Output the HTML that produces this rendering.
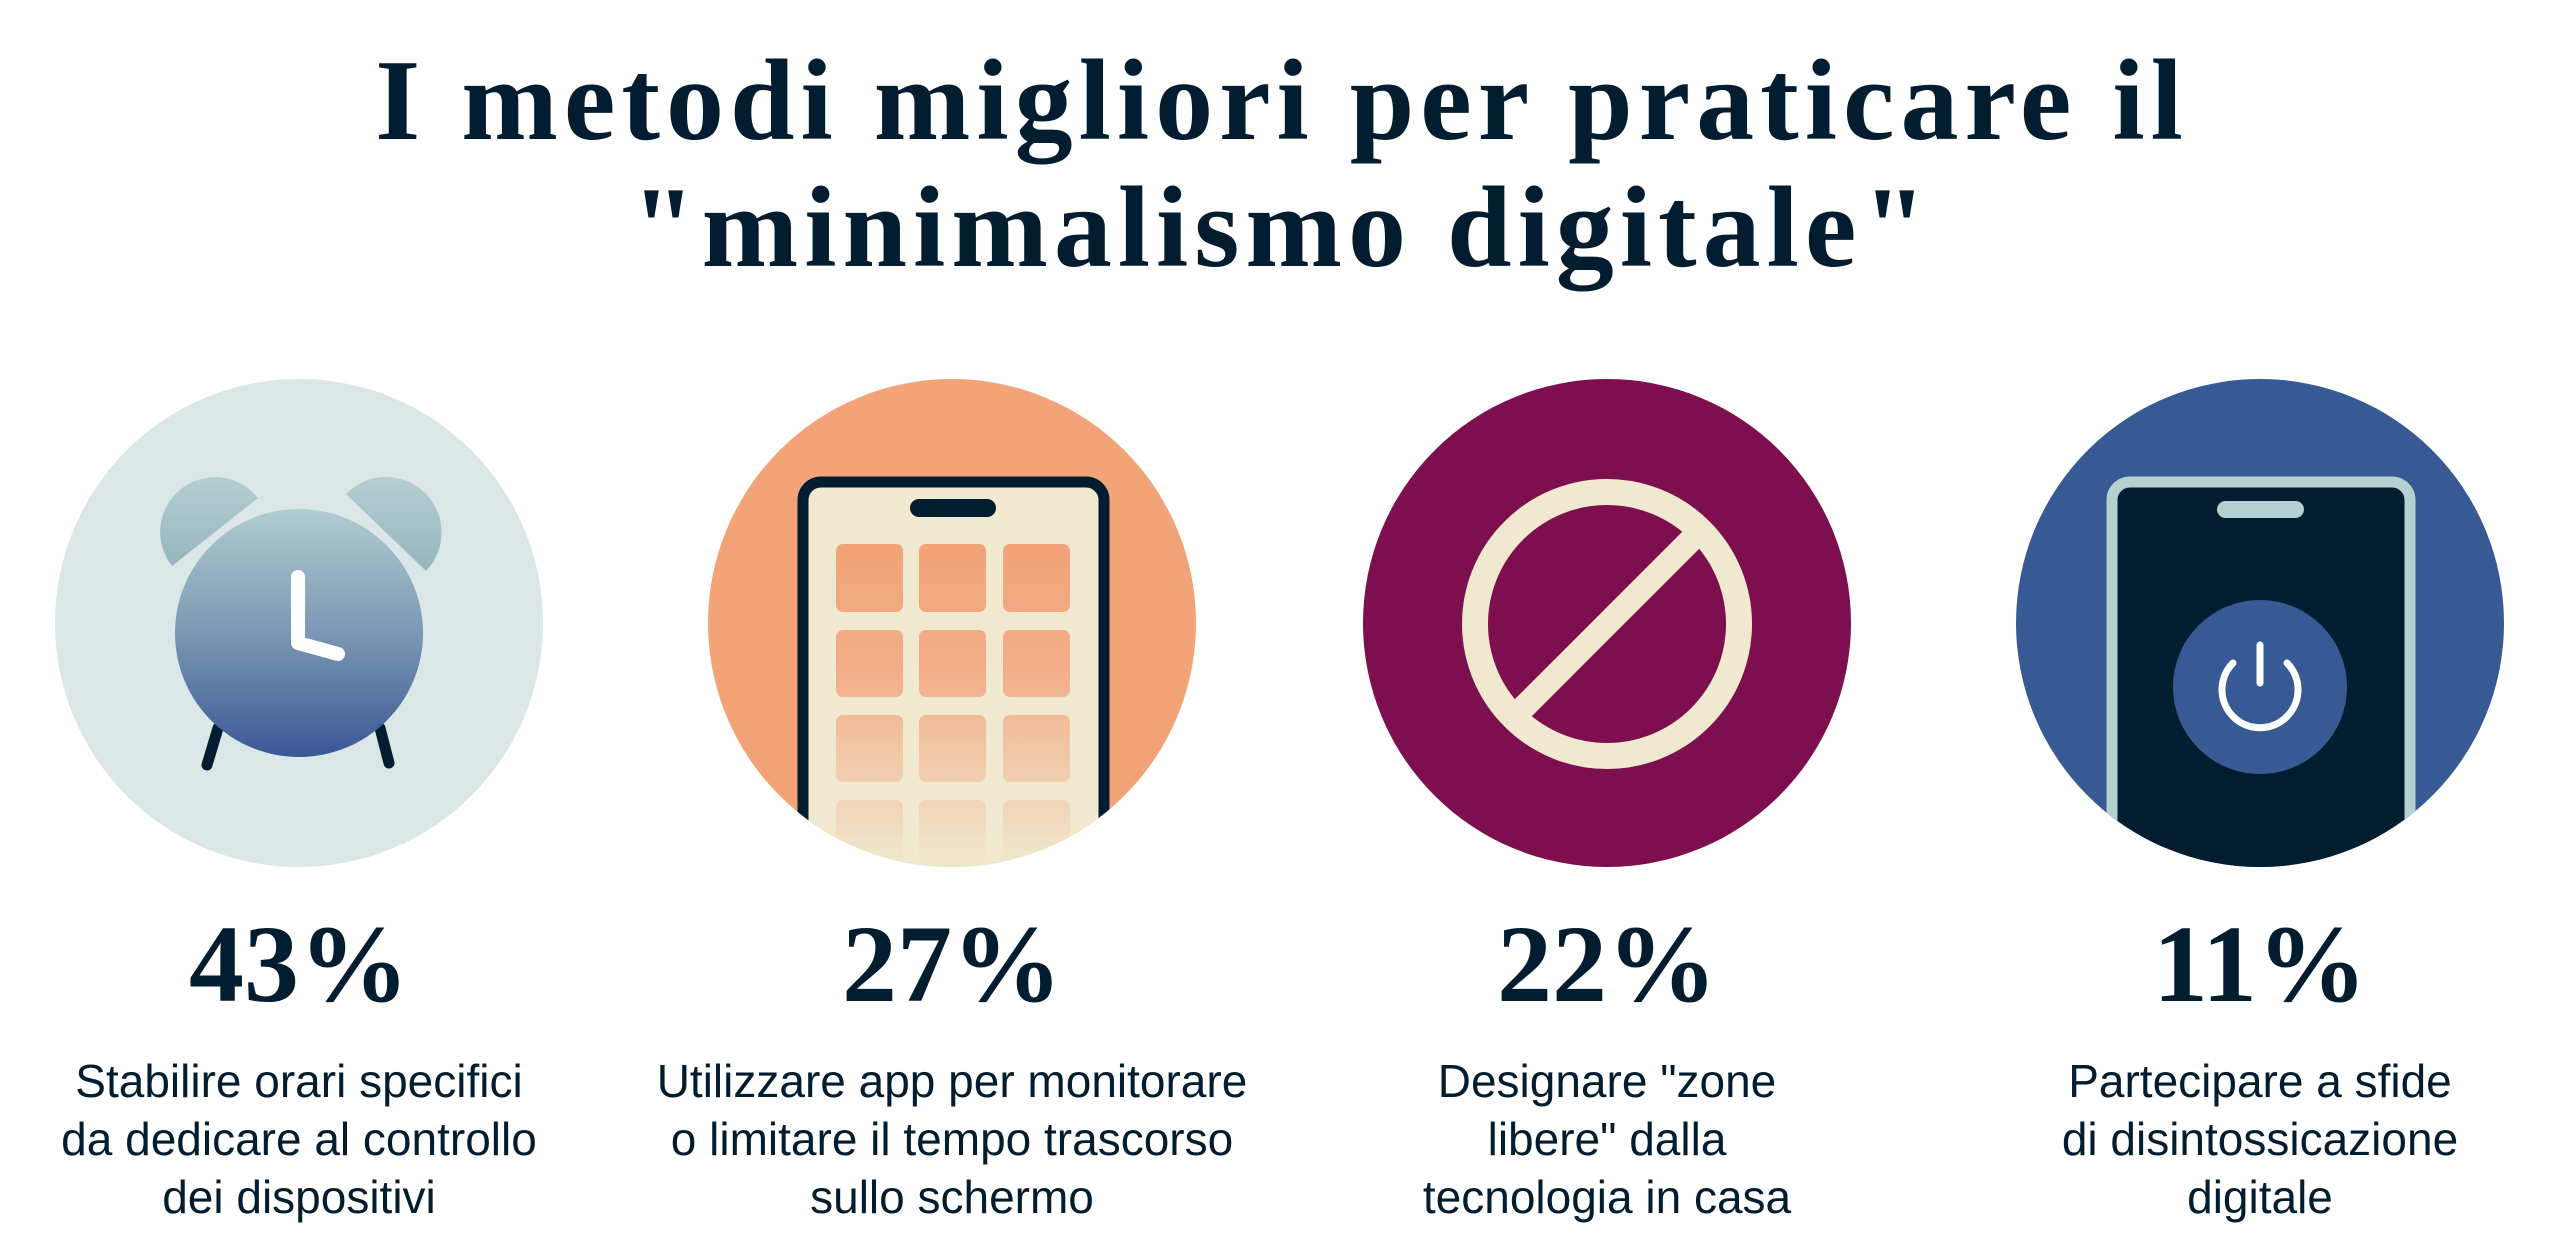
<!DOCTYPE html>
<html><head><meta charset="utf-8"><style>
html,body{margin:0;padding:0;background:#fff;}
body{width:2560px;height:1255px;position:relative;overflow:hidden;}
svg{position:absolute;left:0;top:0;}
</style></head><body>
<svg width="2560" height="1255" viewBox="0 0 2560 1255" xmlns="http://www.w3.org/2000/svg">
<defs>
<linearGradient id="cg" x1="0" y1="0" x2="0" y2="1">
<stop offset="0" stop-color="#b0cdd0"/><stop offset="0.5" stop-color="#7b98b4"/><stop offset="1" stop-color="#3a5795"/></linearGradient>
<linearGradient id="bg" x1="0" y1="0" x2="0" y2="1">
<stop offset="0" stop-color="#b4cfd1"/><stop offset="1" stop-color="#97b5c0"/></linearGradient>
<linearGradient id="tg" gradientUnits="userSpaceOnUse" x1="0" y1="544" x2="0" y2="860">
<stop offset="0" stop-color="#f2a377"/><stop offset="0.4" stop-color="#f2ae88"/><stop offset="1" stop-color="#f0e6cc"/></linearGradient>
<clipPath id="c2"><circle cx="952" cy="623" r="244"/></clipPath>
<clipPath id="c4"><circle cx="2260" cy="623" r="244"/></clipPath>
</defs>
<g font-family="'Liberation Serif',serif" font-weight="bold" fill="#021d2f" text-anchor="middle">
<text x="1282" y="139" font-size="116" letter-spacing="6">I metodi migliori per praticare il</text>
<text x="1282" y="266" font-size="116" letter-spacing="6">"minimalismo digitale"</text>
<text x="299" y="1001" font-size="110">43%</text>
<text x="952" y="1001" font-size="110">27%</text>
<text x="1607" y="1001" font-size="110">22%</text>
<text x="2260" y="1001" font-size="110">11%</text>
</g>
<g font-family="'Liberation Sans',sans-serif" fill="#021d2f" text-anchor="middle" font-size="46">
<text x="299" y="1097">Stabilire orari specifici</text>
<text x="299" y="1155">da dedicare al controllo</text>
<text x="299" y="1213">dei dispositivi</text>
<text x="952" y="1097">Utilizzare app per monitorare</text>
<text x="952" y="1155">o limitare il tempo trascorso</text>
<text x="952" y="1213">sullo schermo</text>
<text x="1607" y="1097">Designare "zone</text>
<text x="1607" y="1155">libere" dalla</text>
<text x="1607" y="1213">tecnologia in casa</text>
<text x="2260" y="1097">Partecipare a sfide</text>
<text x="2260" y="1155">di disintossicazione</text>
<text x="2260" y="1213">digitale</text>
</g>
<!-- circle 1 clock -->
<circle cx="299" cy="623" r="244" fill="#dae7e6"/>
<path d="M172 566 A44 44 0 1 1 258 498 Z" fill="url(#bg)"/>
<path d="M346 494 A44 44 0 1 1 426 571 Z" fill="url(#bg)"/>
<line x1="218" y1="728" x2="207" y2="765" stroke="#021d2f" stroke-width="11" stroke-linecap="round"/>
<line x1="380" y1="728" x2="389" y2="763" stroke="#021d2f" stroke-width="11" stroke-linecap="round"/>
<circle cx="299" cy="633" r="124" fill="url(#cg)"/>
<polyline points="298,577 298,643 338,654" fill="none" stroke="#fff" stroke-width="14" stroke-linecap="round" stroke-linejoin="round"/>
<!-- circle 2 phone -->
<circle cx="952" cy="623" r="244" fill="#f2a377"/>
<g clip-path="url(#c2)">
<rect x="803" y="482" width="301" height="500" rx="18" fill="#f0e9cf" stroke="#021d2f" stroke-width="11"/>
<rect x="910" y="499" width="86" height="18" rx="9" fill="#021d2f"/>
<g fill="url(#tg)">
<rect x="836" y="544" width="67" height="68" rx="7"/><rect x="919" y="544" width="67" height="68" rx="7"/><rect x="1003" y="544" width="67" height="68" rx="7"/>
<rect x="836" y="630" width="67" height="67" rx="7"/><rect x="919" y="630" width="67" height="67" rx="7"/><rect x="1003" y="630" width="67" height="67" rx="7"/>
<rect x="836" y="715" width="67" height="67" rx="7"/><rect x="919" y="715" width="67" height="67" rx="7"/><rect x="1003" y="715" width="67" height="67" rx="7"/>
<rect x="836" y="800" width="67" height="67" rx="7"/><rect x="919" y="800" width="67" height="67" rx="7"/><rect x="1003" y="800" width="67" height="67" rx="7"/>
</g>
</g>
<!-- circle 3 -->
<circle cx="1607" cy="623" r="244" fill="#7e0f4f"/>
<circle cx="1607" cy="624" r="132" fill="none" stroke="#f0e9cf" stroke-width="26"/>
<line x1="1700" y1="531" x2="1514" y2="717" stroke="#f0e9cf" stroke-width="24"/>
<!-- circle 4 -->
<circle cx="2260" cy="623" r="244" fill="#385a94"/>
<g clip-path="url(#c4)">
<rect x="2112" y="482" width="298" height="520" rx="18" fill="#021d2f" stroke="#b5d0d0" stroke-width="11"/>
</g>
<rect x="2217" y="501" width="87" height="17" rx="8.5" fill="#b5d0d0"/>
<circle cx="2260" cy="687" r="87" fill="#385a94"/>
<path d="M2233 663 A38 38 0 1 0 2287 663" fill="none" stroke="#fff" stroke-width="7" stroke-linecap="round"/>
<line x1="2260" y1="645" x2="2260" y2="683" stroke="#fff" stroke-width="7" stroke-linecap="round"/>
</svg>
</body></html>
